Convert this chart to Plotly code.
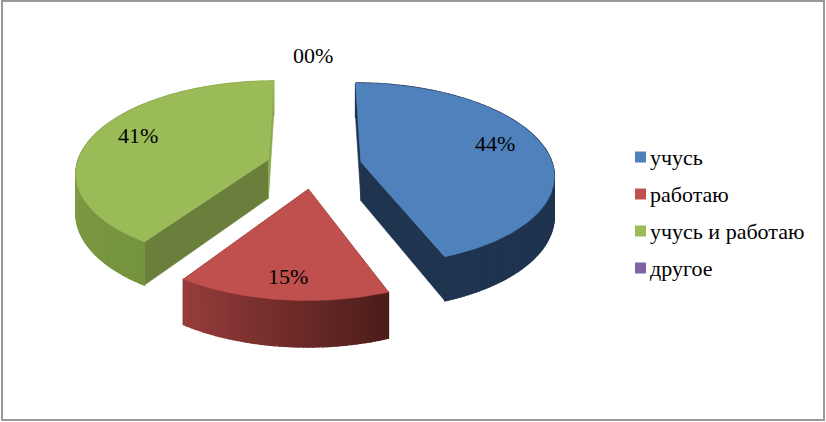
import math
import plotly.graph_objects as go

categories = ["учусь", "работаю", "учусь и работаю", "другое"]
values = [44.2, 15.2, 40.6, 0]
top_colors = ["#4f81bd", "#c0504d", "#9bbb59", "#8064a2"]
wall_start = ["#1f344f", "#4c1d1a", "#76933e", "#4d3b62"]   # colour at the slice's first angle
wall_end = ["#1f344f", "#973d3b", "#8ca84d", "#4d3b62"]     # colour at the slice's last angle
first_edge = ["#1f344f", "#622825", "#6a7f3c", "#4d3b62"]
last_edge = ["#1f344f", "#622825", "#8aa94d", "#4d3b62"]

# projection of the tilted disc
XV, Y0 = 314, 166
R, EXPLODE, TILT, PERSP, DEPTH = 192, 48, 0.47, 0.13, 39
label_pos = [(495, 143), (288, 276), (138, 135), (313, 55)]
LEG_X, LEG_TEXT_X, LEG_Y, LEG_STEP = 640.5, 650, 157, 37
SERIF = "Liberation Serif"
FONT_SIZE = 22


def project(X, Y, drop=0.0):
    s = 1 / (1 + PERSP * Y / R)
    return XV + X * s, Y0 - TILT * Y * s + drop * s


def hex_mix(a, b, t):
    ca = [int(a[i:i + 2], 16) for i in (1, 3, 5)]
    cb = [int(b[i:i + 2], 16) for i in (1, 3, 5)]
    return "#" + "".join(f"{round(x + (y - x) * t):02x}" for x, y in zip(ca, cb))


def poly(points, color, lw=0.6):
    xs, ys = zip(*points)
    return go.Scatter(x=list(xs) + [xs[0]], y=list(ys) + [ys[0]], mode="lines", fill="toself",
                      fillcolor=color, line=dict(color=color, width=lw),
                      hoverinfo="skip", showlegend=False)


fig = go.Figure()
total = sum(values)
start = 0.0
walls, tops = [], []
for i, v in enumerate(values):
    if v == 0:
        continue
    sweep = 2 * math.pi * v / total
    mid = start + sweep / 2
    ox, oy = EXPLODE * math.sin(mid), EXPLODE * math.cos(mid)
    n = max(8, int(v * 3))
    angs = [start + sweep * k / n for k in range(n + 1)]
    rim = [(ox + R * math.sin(a), oy + R * math.cos(a)) for a in angs]
    apex = (ox, oy)
    group = []
    for end, col in ((rim[0], first_edge[i]), (rim[-1], last_edge[i])):
        group.append(poly([project(*apex), project(*end), project(*end, DEPTH), project(*apex, DEPTH)], col))
    # curved outer wall, shaded piece by piece
    for k in range(n):
        a, b = rim[k], rim[k + 1]
        group.append(poly([project(*a), project(*b), project(*b, DEPTH), project(*a, DEPTH)],
                          hex_mix(wall_start[i], wall_end[i], k / (n - 1)), lw=1.4))
    walls.extend(group)
    tops.append(poly([project(*apex)] + [project(*p) for p in rim], top_colors[i]))
    start += sweep

fig.add_traces(walls + tops)

for i, (c, col) in enumerate(zip(categories, top_colors)):
    fig.add_trace(go.Scatter(x=[LEG_X], y=[LEG_Y + i * LEG_STEP], mode="markers",
                             marker=dict(symbol="square", size=11, color=col),
                             hoverinfo="skip", showlegend=False))
    fig.add_annotation(x=LEG_TEXT_X, y=LEG_Y + i * LEG_STEP, text=c, showarrow=False, xanchor="left",
                       xshift=-2, font=dict(family=SERIF, size=FONT_SIZE, color="#000000"))

for v, (x, y) in zip(values, label_pos):
    fig.add_annotation(x=x, y=y, text=f"{v:02.0f}%", showarrow=False,
                       font=dict(family=SERIF, size=FONT_SIZE, color="#000000"))

fig.add_shape(type="rect", x0=2, y0=1, x1=824, y1=420, line=dict(color="#999999", width=2),
              fillcolor="rgba(0,0,0,0)", layer="below")

fig.update_layout(width=826, height=422, margin=dict(l=0, r=0, t=0, b=0),
                  paper_bgcolor="#ffffff", plot_bgcolor="#ffffff", showlegend=False,
                  xaxis=dict(range=[0, 826], visible=False, fixedrange=True),
                  yaxis=dict(range=[422, 0], visible=False, fixedrange=True))
fig.write_html("out.html", config={"displayModeBar": False},
               post_script="document.body.style.margin='0';document.body.style.overflow='hidden';")
